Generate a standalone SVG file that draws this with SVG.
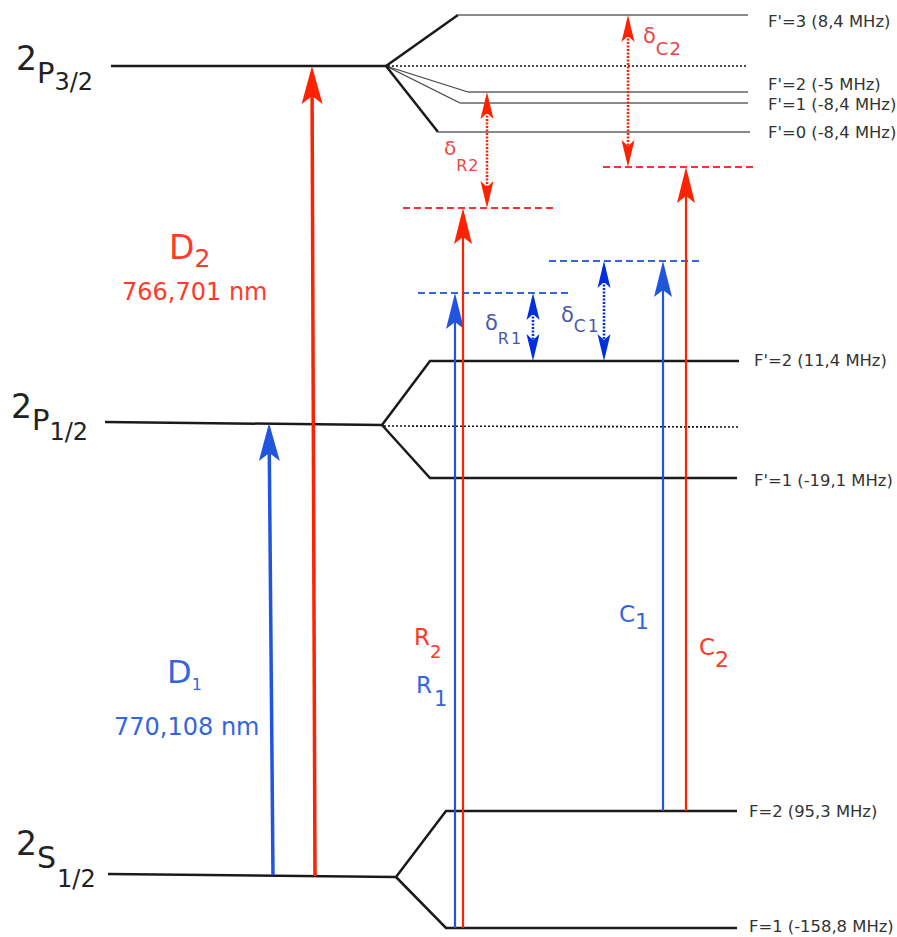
<svg xmlns="http://www.w3.org/2000/svg" width="897" height="937" viewBox="0 0 897 937">
<style>
text{font-family:"DejaVu Sans","Liberation Sans",sans-serif}
.lvl{stroke:#1a1a1a;stroke-width:2.5;fill:none}
.hf{stroke:#8a8a8a;stroke-width:2;fill:none}
.hfd{stroke:#444;stroke-width:1.3;fill:none}
.dot{stroke:#111;stroke-width:1.6;stroke-dasharray:2 2;fill:none}
.vr{stroke:#ff3030;stroke-width:2;stroke-dasharray:7 4;fill:none}
.vb{stroke:#3366dd;stroke-width:2;stroke-dasharray:7 4;fill:none}
.fl{font-size:16.4px;fill:#333}
.big{fill:#222}
.red{fill:#ff3a2a}
.blue{fill:#3366dd}
.dr{fill:#ee4444}
.db{fill:#4a58a8}
.ar{stroke:#ff2200;fill:none}
.ab{stroke:#2255dd;fill:none}
.dar{stroke:#ff2200;stroke-width:2.5;stroke-dasharray:2 1.5;fill:none}
.dab{stroke:#0030dd;stroke-width:2.5;stroke-dasharray:2 1.5;fill:none}
</style>
<defs>
<marker id="hR" markerUnits="userSpaceOnUse" orient="auto" markerWidth="60" markerHeight="40" refX="0" refY="0" viewBox="-40 -20 60 40" overflow="visible"><path d="M8,0 L-30,-10.5 L-22,0 L-30,10.5 Z" fill="#ff2200"/></marker>
<marker id="hB" markerUnits="userSpaceOnUse" orient="auto" markerWidth="60" markerHeight="40" refX="0" refY="0" viewBox="-40 -20 60 40" overflow="visible"><path d="M8,0 L-30,-10.5 L-22,0 L-30,10.5 Z" fill="#2255dd"/></marker>
<marker id="mR" markerUnits="userSpaceOnUse" orient="auto" markerWidth="60" markerHeight="40" refX="0" refY="0" viewBox="-40 -20 60 40" overflow="visible"><path d="M7,0 L-29,-9 L-22,0 L-29,9 Z" fill="#ff2200"/></marker>
<marker id="mB" markerUnits="userSpaceOnUse" orient="auto" markerWidth="60" markerHeight="40" refX="0" refY="0" viewBox="-40 -20 60 40" overflow="visible"><path d="M7,0 L-29,-9 L-22,0 L-29,9 Z" fill="#2255dd"/></marker>
<marker id="sR" markerUnits="userSpaceOnUse" orient="auto-start-reverse" markerWidth="40" markerHeight="30" refX="0" refY="0" viewBox="-30 -15 40 30" overflow="visible"><path d="M6,0 L-21,-6.5 L-15,0 L-21,6.5 Z" fill="#ff2200"/></marker>
<marker id="sB" markerUnits="userSpaceOnUse" orient="auto-start-reverse" markerWidth="40" markerHeight="30" refX="0" refY="0" viewBox="-30 -15 40 30" overflow="visible"><path d="M6,0 L-21,-6.5 L-15,0 L-21,6.5 Z" fill="#0030dd"/></marker>
</defs>

<g id="P32">
<line class="lvl" x1="111" y1="66" x2="386" y2="66"/>
<text class="big" x="16" y="70"><tspan font-size="33">2</tspan><tspan font-size="29" dy="13">P</tspan><tspan font-size="24" dy="7">3/2</tspan></text>
<polyline class="lvl" points="386,66 458,15"/>
<line class="hf" x1="458" y1="15" x2="748" y2="15"/>
<polyline class="hfd" points="386,66 468,92"/>
<line class="hf" x1="468" y1="92" x2="748" y2="92"/>
<polyline class="hfd" points="386,66 460,103"/>
<line class="hf" x1="460" y1="103" x2="748" y2="103"/>
<polyline class="lvl" points="386,66 438,132"/>
<line class="hf" x1="438" y1="132" x2="750" y2="132"/>
<line class="dot" x1="388" y1="66" x2="748" y2="66"/>
<text class="fl" x="768" y="27">F'=3 (8,4 MHz)</text>
<text class="fl" x="768" y="90">F'=2 (-5 MHz)</text>
<text class="fl" x="768" y="110">F'=1 (-8,4 MHz)</text>
<text class="fl" x="768" y="138">F'=0 (-8,4 MHz)</text>
</g>

<g id="P12">
<line class="lvl" x1="105" y1="422" x2="382" y2="425"/>
<text class="big" x="11" y="418"><tspan font-size="33">2</tspan><tspan font-size="29" dy="12">P</tspan><tspan font-size="24" dy="10">1/2</tspan></text>
<polyline class="lvl" points="382,425 430,361 739,361"/>
<polyline class="lvl" points="382,425 430,478 737,478"/>
<line class="dot" x1="384" y1="426" x2="739" y2="427"/>
<text class="fl" x="754" y="366">F'=2 (11,4 MHz)</text>
<text class="fl" x="754" y="486">F'=1 (-19,1 MHz)</text>
</g>

<g id="S12">
<line class="lvl" x1="108" y1="874" x2="396" y2="877"/>
<text class="big" x="16" y="855"><tspan font-size="33">2</tspan><tspan font-size="30" dy="13">S</tspan><tspan font-size="24" dy="19" dx="1">1/2</tspan></text>
<polyline class="lvl" points="396,877 446,811 737,811"/>
<polyline class="lvl" points="396,877 446,928 737,928"/>
<text class="fl" x="749" y="817">F=2 (95,3 MHz)</text>
<text class="fl" x="749" y="932">F=1 (-158,8 MHz)</text>
</g>

<g id="virtual">
<line class="vr" x1="403" y1="208" x2="553" y2="208"/>
<line class="vr" x1="603" y1="167" x2="753" y2="167"/>
<line class="vb" x1="418" y1="293" x2="568" y2="293"/>
<line class="vb" x1="549" y1="261" x2="699" y2="261"/>
</g>

<g id="connectors">
<line class="ab" stroke-width="3.5" x1="273" y1="875" x2="269.1" y2="431" marker-end="url(#hB)"/>
<line class="ar" stroke-width="3.5" x1="315" y1="876" x2="312" y2="74" marker-end="url(#hR)"/>
<line class="ab" stroke-width="2.2" x1="455" y1="928" x2="455" y2="300" marker-end="url(#mB)"/>
<line class="ar" stroke-width="2.2" x1="463" y1="928" x2="463" y2="215" marker-end="url(#mR)"/>
<line class="ab" stroke-width="2.2" x1="663" y1="811" x2="663" y2="268" marker-end="url(#mB)"/>
<line class="ar" stroke-width="2.2" x1="686" y1="811" x2="686" y2="174" marker-end="url(#mR)"/>
<line class="dab" x1="533" y1="299" x2="533" y2="355" marker-start="url(#sB)" marker-end="url(#sB)"/>
<line class="dab" x1="604" y1="267" x2="604" y2="355" marker-start="url(#sB)" marker-end="url(#sB)"/>
<line class="dar" x1="487" y1="98" x2="487" y2="202" marker-start="url(#sR)" marker-end="url(#sR)"/>
<line class="dar" x1="628" y1="21" x2="628" y2="161" marker-start="url(#sR)" marker-end="url(#sR)"/>
</g>

<g id="labels">
<text class="red" x="169" y="259"><tspan font-size="33">D</tspan><tspan font-size="25" dy="8">2</tspan></text>
<text class="red" x="122" y="300" font-size="24">766,701 nm</text>
<text class="blue" x="167" y="683"><tspan font-size="32">D</tspan><tspan font-size="16" dy="7">1</tspan></text>
<text class="blue" x="114" y="735" font-size="24">770,108 nm</text>
<text class="red" x="414" y="645"><tspan font-size="23">R</tspan><tspan font-size="18" dy="13">2</tspan></text>
<text class="blue" x="416" y="693"><tspan font-size="23">R</tspan><tspan font-size="21" dy="13" dx="2">1</tspan></text>
<text class="blue" x="619" y="622"><tspan font-size="23">C</tspan><tspan font-size="22" dy="7">1</tspan></text>
<text class="red" x="699" y="655"><tspan font-size="23">C</tspan><tspan font-size="22" dy="12">2</tspan></text>
<text class="dr" x="444" y="155"><tspan font-size="20">δ</tspan><tspan font-size="16" dy="16" letter-spacing="1">R2</tspan></text>
<text class="dr" x="643" y="43"><tspan font-size="21">δ</tspan><tspan font-size="18" dy="12" letter-spacing="1">C2</tspan></text>
<text class="db" x="485" y="330"><tspan font-size="21">δ</tspan><tspan font-size="16" dy="14" letter-spacing="2">R1</tspan></text>
<text class="db" x="561" y="322"><tspan font-size="21">δ</tspan><tspan font-size="17" dy="10" letter-spacing="2">C1</tspan></text>
</g>
</svg>
